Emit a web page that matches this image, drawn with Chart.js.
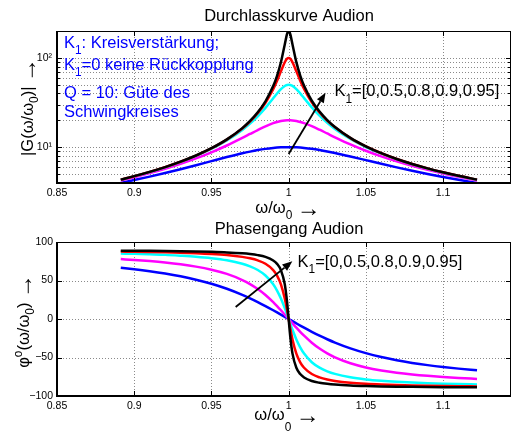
<!DOCTYPE html>
<html><head><meta charset="utf-8">
<script src="https://cdn.jsdelivr.net/npm/chart.js"></script>
<style>
html,body{margin:0;padding:0;background:#fff;}
#wrap{position:relative;width:514px;height:435px;overflow:hidden;}
#wrap canvas{position:absolute;left:0;top:0;}
</style></head><body>
<div id="wrap"><canvas id="c1" width="514" height="435"></canvas><canvas id="c2" width="514" height="435"></canvas></div>
<script>
// ---- data ----
const omega = [0.8913,0.9,0.91,0.92,0.93,0.94,0.95,0.96,0.97,0.975,0.98,0.985,0.99,0.9925,0.995,0.9975,0.999,1,1.001,1.0025,1.005,1.0075,1.01,1.015,1.02,1.025,1.03,1.04,1.05,1.06,1.07,1.08,1.09,1.1,1.11,1.122];
const K1 = [0,0.5,0.8,0.9,0.95];
const magK0   = [3.978,4.281,4.679,5.138,5.670,6.283,6.979,7.745,8.540,8.921,9.272,9.572,9.804,9.889,9.950,9.987,9.998,10,9.998,9.988,9.951,9.890,9.808,9.584,9.297,8.966,8.608,7.867,7.156,6.510,5.940,5.444,5.014,4.640,4.314,3.977];
const magK05  = [4.237,4.609,5.118,5.738,6.509,7.488,8.760,10.443,12.688,14.052,15.555,17.115,18.557,19.151,19.610,19.900,19.984,20,19.984,19.901,19.614,19.163,18.582,17.183,15.677,14.229,12.914,10.748,9.118,7.882,6.927,6.173,5.566,5.067,4.651,4.236];
const magK08  = [4.319,4.716,5.264,5.947,6.820,7.972,9.564,11.893,15.595,18.367,22.178,27.589,35.267,39.945,44.698,48.504,49.751,50,49.752,48.511,44.744,40.054,35.443,27.878,22.537,18.767,16.021,12.350,10.035,8.453,7.305,6.436,5.756,5.210,4.761,4.318];
const magK09  = [4.331,4.732,5.286,5.979,6.868,8.049,9.698,12.154,16.196,19.373,24.022,31.407,44.543,55.325,70.622,89.421,98.058,100,98.061,89.465,70.800,55.614,44.899,31.835,24.479,19.844,16.676,12.643,10.191,8.545,7.364,6.477,5.785,5.231,4.777,4.330];
const magK095 = [4.334,4.736,5.292,5.987,6.880,8.069,9.732,12.222,16.358,19.652,24.559,32.637,48.281,63.032,89.262,141.34,185.68,200,185.71,141.51,89.62,63.46,48.73,33.118,25.049,20.144,16.853,12.719,10.230,8.568,7.379,6.487,5.792,5.236,4.781,4.333];
const phK0   = [66.56,64.66,62.10,59.08,55.46,51.08,45.74,39.24,31.35,26.86,22.00,16.82,11.36,8.56,5.72,2.87,1.15,0,-1.15,-2.86,-5.69,-8.50,-11.25,-16.58,-21.61,-26.28,-30.59,-38.12,-44.31,-49.39,-53.56,-57.02,-59.91,-62.36,-64.44,-66.57];
const phK05  = [77.77,76.68,75.17,73.33,71.01,68.01,64.02,58.53,50.63,45.36,38.94,31.15,21.90,16.76,11.34,5.72,2.29,0,-2.29,-5.70,-11.28,-16.64,-21.70,-30.77,-38.38,-44.65,-49.78,-57.50,-62.88,-66.79,-69.74,-72.02,-73.84,-75.32,-76.55,-77.77];
const phK08  = [85.04,84.59,83.96,83.28,82.16,80.83,78.97,76.24,71.83,68.45,63.67,56.51,45.14,36.97,26.62,14.05,5.71,0,-5.71,-14.02,-26.51,-36.76,-44.86,-56.11,-63.21,-67.95,-71.31,-75.70,-78.42,-80.27,-81.60,-82.60,-83.39,-84.02,-84.54,-85.05];
const phK09  = [87.52,87.29,86.97,86.57,86.06,85.38,84.43,83.02,80.68,78.83,76.10,71.70,63.55,56.41,45.07,26.59,11.31,0,-11.30,-26.54,-44.93,-56.21,-63.32,-71.44,-75.83,-78.56,-80.40,-82.74,-84.15,-85.10,-85.78,-86.29,-86.68,-87.00,-87.26,-87.52];
const phK095 = [88.76,88.64,88.48,88.28,88.03,87.69,87.21,86.50,85.31,84.36,82.95,80.61,76.03,71.63,63.49,45.03,21.81,0,-21.79,-44.97,-63.38,-71.50,-75.90,-80.47,-82.80,-84.22,-85.17,-86.35,-87.07,-87.54,-87.89,-88.14,-88.34,-88.50,-88.63,-88.76];

const xTicks = [0.85,0.9,0.95,1,1.05,1.1];
const xTickLabels = ['0.85','0.9','0.95','1','1.05','1.1'];
const magTicks = [10,100];
const magTickLabels = ['10\u00B9','10\u00B2'];
const magMinor = [5,6,7,8,9,20,30,40,50,60,70,80,90];
const phTicks = [-100,-50,0,50,100];
const phTickLabels = ['\u2212100','\u221250','0','50','100'];

// arrows / labels in data coordinates
const magArrow = [[1.0, 8.4],[1.0239, 40.8]];
const magLabelPos = [1.0297, 43.7];
const phArrow = [[0.9657, 15.6],[1.0024, 74.9]];
const phLabelPos = [1.0058, 76.2];

const magSeries = [magK0, magK05, magK08, magK09, magK095];
const phSeries = [phK0, phK05, phK08, phK09, phK095];
const colors = ['#0000ff','#ff00ff','#00ffff','#ff0000','#000000'];

const FONT = '"Liberation Sans", Arial, Helvetica, sans-serif';
const TXT = 16.5;
const SP = [' ', 0];
const ARROW = ['\u2192', 0, FONT, 1.45, 2.5];

function richText(ctx, parts, x, y, size, color, align, subDy) {
  ctx.save();
  ctx.fillStyle = color;
  ctx.textBaseline = 'alphabetic';
  const fs = p => (p[1] ? size*0.72 : size*(p[3]||1)) + 'px ' + (p[2] || FONT);
  const ws = parts.map(p => { ctx.font = fs(p); return ctx.measureText(p[0]).width; });
  const total = ws.reduce((a,b)=>a+b,0);
  let cx = align === 'center' ? x - total/2 : x;
  parts.forEach((p,i) => {
    ctx.font = fs(p);
    const dy = (p[1] === 1 ? (subDy || size*0.38) : p[1] === 2 ? -size*0.42 : 0) + (p[4] || 0);
    ctx.fillText(p[0], cx, y + dy);
    cx += ws[i];
  });
  ctx.restore();
}
function rotText(ctx, parts, bx, cy, size, subDy) {
  ctx.save(); ctx.translate(bx, cy); ctx.rotate(-Math.PI/2);
  richText(ctx, parts, 0, 0, size, '#000', 'center', subDy);
  ctx.restore();
}
function drawGrid(chart, xs, ys) {
  const {ctx, chartArea:a, scales:{x,y}} = chart;
  ctx.save(); ctx.strokeStyle = '#8a8a8a'; ctx.lineWidth = 1; ctx.setLineDash([1,2]);
  ctx.beginPath();
  xs.forEach(v => { const p = Math.round(x.getPixelForValue(v)) + 0.5; if (p > a.left+2 && p < a.right-2) { ctx.moveTo(p, a.top); ctx.lineTo(p, a.bottom); } });
  ys.forEach(v => { const p = Math.round(y.getPixelForValue(v)) + 0.5; if (p > a.top+2 && p < a.bottom-2) { ctx.moveTo(a.left, p); ctx.lineTo(a.right, p); } });
  ctx.stroke(); ctx.restore();
}
function drawBox(chart, xs, yMajor, yMinor) {
  const {ctx, chartArea:a, scales:{x,y}} = chart;
  ctx.save(); ctx.strokeStyle = '#000'; ctx.setLineDash([]); ctx.lineWidth = 1;
  ctx.beginPath();
  xs.forEach(v => { const p = Math.round(x.getPixelForValue(v)) + 0.5; ctx.moveTo(p, a.bottom); ctx.lineTo(p, a.bottom-5); ctx.moveTo(p, a.top); ctx.lineTo(p, a.top+5); });
  yMajor.forEach(v => { const p = Math.round(y.getPixelForValue(v)) + 0.5; ctx.moveTo(a.left, p); ctx.lineTo(a.left+5, p); ctx.moveTo(a.right, p); ctx.lineTo(a.right-5, p); });
  yMinor.forEach(v => { const p = Math.round(y.getPixelForValue(v)) + 0.5; ctx.moveTo(a.left, p); ctx.lineTo(a.left+3, p); ctx.moveTo(a.right, p); ctx.lineTo(a.right-3, p); });
  ctx.moveTo(a.left, Math.round(a.top)+0.5); ctx.lineTo(a.right, Math.round(a.top)+0.5);
  ctx.moveTo(Math.round(a.right)-0.5, a.top); ctx.lineTo(Math.round(a.right)-0.5, a.bottom);
  ctx.stroke();
  ctx.lineWidth = 2; ctx.beginPath();
  ctx.moveTo(Math.round(a.left), a.top); ctx.lineTo(Math.round(a.left), Math.round(a.bottom)); ctx.lineTo(a.right, Math.round(a.bottom));
  ctx.stroke();
  ctx.restore();
}
function drawArrow(chart, pts) {
  const {ctx, scales:{x,y}} = chart;
  const x1 = x.getPixelForValue(pts[0][0]), y1 = y.getPixelForValue(pts[0][1]);
  const x2 = x.getPixelForValue(pts[1][0]), y2 = y.getPixelForValue(pts[1][1]);
  const ang = Math.atan2(y2-y1, x2-x1), L = 10, W = 4;
  const bx = x2 - L*Math.cos(ang), by = y2 - L*Math.sin(ang);
  ctx.save(); ctx.strokeStyle = '#000'; ctx.fillStyle = '#000'; ctx.lineWidth = 1.8;
  ctx.beginPath(); ctx.moveTo(x1, y1); ctx.lineTo(bx, by); ctx.stroke();
  ctx.beginPath(); ctx.moveTo(x2, y2);
  ctx.lineTo(bx + W*Math.sin(ang), by - W*Math.cos(ang));
  ctx.lineTo(bx - W*Math.sin(ang), by + W*Math.cos(ang));
  ctx.closePath(); ctx.fill();
  ctx.restore();
}
function kLabel(chart, pos) {
  const {ctx, scales:{x,y}} = chart;
  const px = x.getPixelForValue(pos[0]), py = y.getPixelForValue(pos[1]);
  richText(ctx, [['K',0],['1',1],['=[0,0.5,0.8,0.9,0.95]',0]], px, py + 6.5, TXT, '#000', 'left');
}

function makeDatasets(series) {
  return series.map((arr, i) => ({
    label: 'K1=' + K1[i],
    data: omega.map((w, j) => ({x: w, y: arr[j]})),
    borderColor: colors[i], borderWidth: 2.5, pointRadius: 0,
    cubicInterpolationMode: 'monotone', fill: false, order: K1.length - 1 - i
  }));
}
function xScale() {
  return {
    type: 'linear', min: 0.85, max: 1.144,
    afterBuildTicks: s => { s.ticks = xTicks.map(v => ({value: v})); },
    afterFit: s => { s.height = 30; },
    ticks: { autoSkip: false, maxRotation: 0, padding: 4, color: '#000',
      font: {family: FONT, size: 10.5}, callback: (v, i) => xTickLabels[xTicks.indexOf(v)] ?? '' },
    grid: { display: false, drawTicks: false }, border: { display: false }
  };
}
const common = {
  responsive: false, animation: false, events: [],
  plugins: { legend: {display: false}, tooltip: {enabled: false}, title: {display: false} }
};

new Chart(document.getElementById('c1'), {
  type: 'line',
  data: { datasets: makeDatasets(magSeries) },
  options: Object.assign({}, common, {
    layout: { padding: {top: 31, left: 0, right: 3, bottom: 222} },
    scales: {
      x: xScale(),
      y: {
        type: 'logarithmic', min: 3.97, max: 200,
        afterBuildTicks: s => { s.ticks = magTicks.map(v => ({value: v})); },
        afterFit: s => { s.width = 57; },
        ticks: { autoSkip: false, padding: 5, color: '#000', font: {family: FONT, size: 10.5},
          callback: v => magTickLabels[magTicks.indexOf(v)] ?? '' },
        grid: { display: false, drawTicks: false }, border: { display: false }
      }
    }
  }),
  plugins: [{
    id: 'deco1',
    beforeDatasetsDraw(chart) { drawGrid(chart, xTicks, magTicks.concat(magMinor)); },
    afterDatasetsDraw(chart) {
      const ctx = chart.ctx, a = chart.chartArea;
      drawBox(chart, xTicks, magTicks, magMinor);
      drawArrow(chart, magArrow);
      kLabel(chart, magLabelPos);
      richText(ctx, [['Durchlasskurve Audion',0]], 289, 21, TXT, '#000', 'center');
      richText(ctx, [['\u03C9/\u03C9',0],['0',1],SP,ARROW], 288, 213, TXT, '#000', 'center', 6);
      rotText(ctx, [['|G(\u03C9/\u03C9',0],['0',1],[')|',0],SP,ARROW], 33, 107, TXT, 5);
      const bl = '#0000ff';
      richText(ctx, [['K',0],['1',1],[': Kreisverst\u00E4rkung;',0]], a.left + 7, 48, TXT, bl, 'left');
      richText(ctx, [['K',0],['1',1],['=0 keine R\u00FCckkopplung',0]], a.left + 7, 70, TXT, bl, 'left');
      richText(ctx, [['Q = 10: G\u00FCte des',0]], a.left + 7, 97.5, TXT, bl, 'left');
      richText(ctx, [['Schwingkreises',0]], a.left + 7, 116.5, TXT, bl, 'left');
    }
  }]
});

new Chart(document.getElementById('c2'), {
  type: 'line',
  data: { datasets: makeDatasets(phSeries) },
  options: Object.assign({}, common, {
    layout: { padding: {top: 242, left: 0, right: 3, bottom: 9} },
    scales: {
      x: xScale(),
      y: {
        type: 'linear', min: -100, max: 100,
        afterBuildTicks: s => { s.ticks = phTicks.map(v => ({value: v})); },
        afterFit: s => { s.width = 57; },
        ticks: { autoSkip: false, padding: 4, color: '#000', font: {family: FONT, size: 10.5},
          callback: v => phTickLabels[phTicks.indexOf(v)] ?? '' },
        grid: { display: false, drawTicks: false }, border: { display: false }
      }
    }
  }),
  plugins: [{
    id: 'deco2',
    beforeDatasetsDraw(chart) { drawGrid(chart, xTicks, phTicks); },
    afterDatasetsDraw(chart) {
      const ctx = chart.ctx;
      drawBox(chart, xTicks, phTicks, []);
      drawArrow(chart, phArrow);
      kLabel(chart, phLabelPos);
      richText(ctx, [['Phasengang Audion',0]], 289, 234, TXT, '#000', 'center');
      richText(ctx, [['\u03C9/\u03C9',0],['0',1],SP,ARROW], 287, 420, TXT, '#000', 'center', 11);
      rotText(ctx, [['\u03C6',0],['o',2],['(\u03C9/\u03C9',0],['0',1],[')',0],SP,ARROW], 29, 321, TXT, 5);
    }
  }]
});
</script>
</body></html>
